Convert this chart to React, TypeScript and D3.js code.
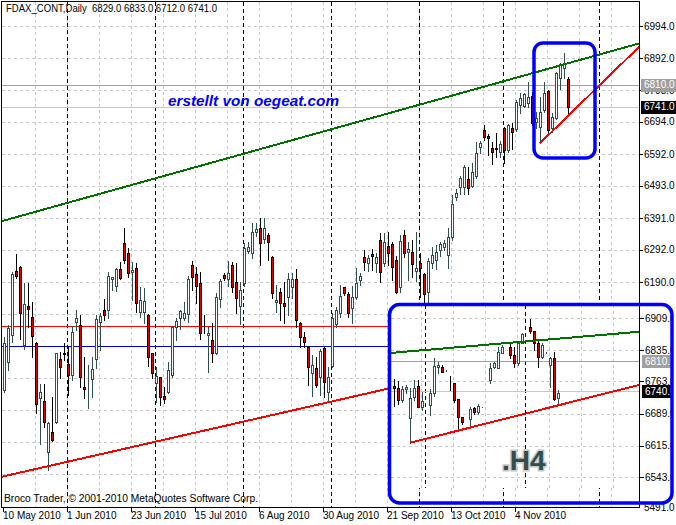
import React from "react";
import * as d3 from "d3";

// ---------- DATA ----------
// Daily FDAX candles from 10 May 2010, [open, high, low, close]
const dailyCandles: [number, number, number, number][] = [
  [5851, 6018, 5845, 5999], [5940, 6055, 5914, 6045], [6024, 6222, 6002, 6214], [6224, 6278, 6202, 6210],
  [6236, 6240, 6012, 6092], [5992, 6186, 5979, 6121], [6115, 6186, 6048, 6106], [6079, 6128, 5955, 6020],
  [5997, 6000, 5778, 5806], [5827, 5870, 5681, 5844], [5816, 5870, 5736, 5751], [5655, 5750, 5600, 5748],
  [5718, 5828, 5690, 5693], [5749, 5968, 5747, 5966], [5948, 5971, 5888, 5922], [5966, 5997, 5945, 5965],
  [5932, 5985, 5835, 5897], [5898, 6052, 5882, 6033], [6065, 6102, 6039, 6076], [6055, 6086, 5861, 5893],
  [5861, 5954, 5825, 5853], [5898, 5929, 5795, 5898], [5884, 5955, 5830, 5916], [5947, 6086, 5919, 6073],
  [6065, 6092, 5976, 6083], [6102, 6136, 6071, 6086], [6102, 6222, 6076, 6209], [6198, 6207, 6165, 6205],
  [6178, 6233, 6163, 6230], [6230, 6254, 6198, 6202], [6313, 6360, 6250, 6259], [6280, 6296, 6207, 6217],
  [6221, 6253, 6133, 6228], [6233, 6249, 6097, 6125], [6097, 6175, 6081, 6134], [6095, 6170, 6062, 6130],
  [6086, 6088, 5926, 5954], [5966, 5968, 5888, 5905], [5872, 5924, 5814, 5895], [5891, 5893, 5804, 5828],
  [5832, 5861, 5809, 5823], [5845, 5940, 5840, 5914], [5898, 6052, 5893, 6048], [6048, 6076, 6008, 6068],
  [6076, 6102, 6041, 6100], [6076, 6128, 6071, 6094], [6089, 6209, 6065, 6198], [6243, 6257, 6165, 6207],
  [6215, 6238, 6125, 6177], [6186, 6222, 6010, 6031], [6046, 6086, 6029, 6044], [6024, 6050, 5908, 6029],
  [6008, 6062, 5940, 5966], [5966, 6154, 5964, 6142], [6136, 6198, 6112, 6194], [6212, 6219, 6196, 6203],
  [6198, 6257, 6177, 6217], [6243, 6254, 6160, 6175], [6191, 6251, 6092, 6139], [6115, 6191, 6058, 6165],
  [6188, 6312, 6177, 6296], [6288, 6317, 6280, 6301], [6282, 6376, 6264, 6346], [6346, 6376, 6334, 6356],
  [6359, 6390, 6243, 6313], [6324, 6390, 6313, 6359], [6338, 6343, 6259, 6317], [6269, 6272, 6139, 6154],
  [6126, 6181, 6097, 6134], [6160, 6170, 6071, 6123], [6125, 6191, 6062, 6115], [6142, 6217, 6086, 6198],
  [6173, 6219, 6139, 6198], [6198, 6230, 6050, 6071], [6062, 6065, 5987, 6016], [6016, 6034, 5987, 6002],
  [5987, 5990, 5866, 5924], [5905, 5961, 5832, 5929], [5919, 5955, 5861, 5866], [5893, 5979, 5835, 5974],
  [5982, 5987, 5830, 5877], [5845, 5924, 5814, 5893], [5926, 6092, 5924, 6076], [6058, 6112, 6050, 6102],
  [6094, 6181, 6081, 6146], [6173, 6175, 6149, 6154], [6152, 6160, 6079, 6094], [6107, 6177, 6060, 6142],
  [6142, 6233, 6136, 6188], [6196, 6219, 6181, 6209], [6269, 6291, 6228, 6254], [6251, 6275, 6226, 6264],
  [6278, 6293, 6228, 6272], [6251, 6280, 6222, 6269], [6322, 6343, 6191, 6222], [6249, 6343, 6240, 6317],
  [6303, 6348, 6243, 6280], [6309, 6317, 6196, 6236], [6259, 6272, 6154, 6160], [6175, 6338, 6160, 6320],
  [6338, 6353, 6269, 6282], [6285, 6317, 6196, 6293], [6285, 6322, 6207, 6247], [6226, 6348, 6194, 6233],
  [6251, 6280, 6144, 6233], [6215, 6217, 6118, 6152], [6160, 6264, 6118, 6257], [6251, 6301, 6233, 6275],
  [6259, 6306, 6230, 6285], [6291, 6317, 6272, 6309], [6299, 6322, 6291, 6313], [6275, 6359, 6233, 6332],
  [6332, 6463, 6322, 6435], [6458, 6481, 6448, 6471], [6487, 6523, 6466, 6516], [6489, 6558, 6466, 6550],
  [6513, 6552, 6466, 6484], [6492, 6563, 6487, 6536], [6523, 6631, 6516, 6594], [6613, 6634, 6594, 6628],
  [6667, 6683, 6636, 6645], [6649, 6655, 6589, 6641], [6610, 6631, 6561, 6599], [6610, 6659, 6582, 6607],
  [6599, 6634, 6582, 6623], [6673, 6676, 6565, 6605], [6605, 6686, 6599, 6683], [6673, 6690, 6607, 6662],
  [6670, 6762, 6665, 6756], [6746, 6783, 6720, 6767], [6743, 6783, 6741, 6780], [6751, 6819, 6739, 6772],
  [6774, 6787, 6683, 6689], [6692, 6724, 6674, 6705], [6677, 6771, 6626, 6724], [6730, 6819, 6724, 6783],
  [6790, 6793, 6662, 6667], [6675, 6720, 6662, 6709], [6704, 6850, 6702, 6845], [6830, 6877, 6796, 6874],
  [6861, 6908, 6830, 6877], [6829, 6833, 6712, 6741],
];

// H4 inset candles [open, high, low, close]; null = no bar drawn
const h4Candles: ([number, number, number, number] | null)[] = [
  [6752, 6768, 6706, 6747], [6749, 6763, 6711, 6720], [6720, 6752, 6716, 6745], [6745, 6755, 6737, 6751],
  [6678, 6749, 6622, 6726], [6728, 6766, 6720, 6749], [6752, 6766, 6703, 6705], [6705, 6739, 6697, 6718],
  null, [6708, 6745, 6686, 6737], [6737, 6818, 6729, 6798], [6797, 6808, 6782, 6801],
  [6797, 6801, 6785, 6785], [6789, 6790, 6788, 6789], [6760, 6775, 6743, 6759], [6759, 6760, 6716, 6720],
  [6722, 6722, 6651, 6680], [6680, 6682, 6666, 6670], null, [6676, 6705, 6659, 6699],
  [6701, 6705, 6689, 6693], [6693, 6711, 6689, 6706], [6703, 6704, 6703, 6703], null,
  [6766, 6805, 6759, 6795], [6797, 6808, 6795, 6805], [6795, 6843, 6793, 6831], [6829, 6847, 6828, 6843],
  null, [6843, 6852, 6816, 6824], [6824, 6843, 6797, 6805], [6805, 6855, 6801, 6851],
  [6852, 6874, 6851, 6872], null, [6888, 6906, 6874, 6878], [6878, 6880, 6835, 6851],
  [6852, 6858, 6797, 6820], [6820, 6851, 6818, 6847], [6829, 6830, 6829, 6829], [6801, 6820, 6751, 6816],
  [6816, 6831, 6720, 6722], [6726, 6743, 6711, 6737],
];

const headerText = "FDAX_CONT,Daily  6829.0 6833.0 6712.0 6741.0";
const copyrightText = "Broco Trader, \u00a9 2001-2010 MetaQuotes Software Corp.";
const watermarkText = "erstellt von oegeat.com";
const insetTitle = ".H4";

const priceTicks = [6994, 6892, 6793, 6694, 6592, 6493, 6391, 6292, 6190, 6089, 5988, 5888, 5787, 5687, 5586];
const bottomScaleLabel = "5491.0";
const insetTicks = [6909, 6835, 6763, 6689, 6615, 6543];

const dateLabels = ["10 May 2010", "1 Jun 2010", "23 Jun 2010", "15 Jul 2010", "6 Aug 2010", "30 Aug 2010", "21 Sep 2010", "13 Oct 2010", "4 Nov 2010"];
const dateLabelBars = [0, 16, 32, 48, 64, 80, 96, 112, 128];
const monthSeparatorBars = [16, 38, 60, 82, 104, 125, 149];
const h4SeparatorBars = [8, 33];

// trendlines as [bar, price] anchor pairs
const greenTrend: [number, number][] = [[0, 6383], [159, 6940]];
const redTrendLow: [number, number][] = [[0, 5580], [96, 5855]];
const redTrendShort: [number, number][] = [[134, 6626], [158.8, 6929]];
const h4GreenTrend: [number, number][] = [[-1.66, 6828], [61.4, 6877.5]];
const h4RedTrend: [number, number][] = [[4, 6622], [61.4, 6755.5]];

const redLevel = 6051;
const blueLevel = 5988;
const markLevel = 6810;
const bidLevel = 6741;
const h4BidLevel = 6740;

// ---------- LAYOUT ----------
const PL = 2, PT = 2, PR = 639, PB = 507;
const INSET = { x0: 389.5, y0: 304.5, x1: 672, y1: 503, plotL: 391, plotT: 305, plotR: 640, plotB: 488 };
const FONT = "Tahoma, 'Liberation Sans', Arial, sans-serif";
const BULL = "#2f4f4f";
const BEAR_FILL = "#e00000";

function Candle({ cx, o, h, l, c }: any) {
  const bull = c <= o; // pixel space: close above open
  const top = Math.round(Math.min(o, c));
  const bot = Math.round(Math.max(o, c));
  const col = bull ? BULL : "#000";
  return (
    <g>
      <line x1={cx + 0.5} x2={cx + 0.5} y1={Math.round(h)} y2={Math.round(l) + 1} stroke={col} strokeWidth={1} />
      <rect x={cx - 0.5} y={top + 0.5} width={2} height={Math.max(bot - top, 0)} fill={bull ? "#fff" : BEAR_FILL} stroke={col} strokeWidth={1} />
    </g>
  );
}

function trendPath(pts: [number, number][], xs: any, ys: any, xa: number, xb: number) {
  const [a, b] = pts.map(([bar, p]) => [xs(bar), ys(p)]);
  const slope = (b[1] - a[1]) / (b[0] - a[0]);
  const yAt = (x: number) => a[1] + (x - a[0]) * slope;
  return { x1: xa, y1: yAt(xa), x2: xb, y2: yAt(xb) };
}

export default function App() {
  const xM = d3.scaleLinear().domain([0, 1]).range([4, 8]);
  const yM = d3.scaleLinear().domain([6994, 6190]).range([26, 282]);
  const xI = d3.scaleLinear().domain([0, 1]).range([394.33, 398.33]);
  const yI = d3.scaleLinear().domain([6909, 6543]).range([318, 477]);

  const gridBars = d3.range(8, 156, 8);
  const h4GridBars = d3.range(7, 62, 8);

  const g1 = trendPath(greenTrend, xM, yM, PL, PR);
  const r1 = trendPath(redTrendLow, xM, yM, PL, PR);
  const r2 = trendPath(redTrendShort, xM, yM, xM(redTrendShort[0][0]), PR);
  const hg = trendPath(h4GreenTrend, xI, yI, INSET.plotL, INSET.plotR);
  const hr = trendPath(h4RedTrend, xI, yI, xI(h4RedTrend[0][0]), INSET.plotR);

  const ry = (v: number) => Math.round(v) + 0.5;
  // axis labels that are not covered by the inset picture
  const visibleTicks = priceTicks.filter((p) => yM(p) < INSET.y0 - 6);
  const markBoxBottom = Math.round(yM(markLevel)) + 7;

  return (
    <svg width={676} height={525} style={{ position: "absolute", left: 0, top: 0, background: "#fff" }} fontFamily={FONT}>
      <defs>
        <clipPath id="mainClip"><rect x={PL} y={PT} width={PR - PL} height={PB - PT} /></clipPath>
        <clipPath id="insetClip"><rect x={INSET.plotL} y={INSET.plotT} width={INSET.plotR - INSET.plotL} height={INSET.plotB - INSET.plotT} /></clipPath>
        <clipPath id="insetAll"><rect x={INSET.x0} y={INSET.y0} width={INSET.x1 - INSET.x0} height={INSET.plotB - INSET.y0} /></clipPath>
        <clipPath id="belowMark"><rect x={640} y={markBoxBottom} width={40} height={20} /></clipPath>
      </defs>
      <rect x={0} y={0} width={676} height={525} fill="#fff" />

      {/* main grid */}
      <g clipPath="url(#mainClip)">
        {priceTicks.map((p) => (
          <line key={"h" + p} x1={PL} x2={PR} y1={ry(yM(p))} y2={ry(yM(p))} stroke="#c8c8c8" strokeDasharray="3,3" />
        ))}
        {gridBars.map((b) => (
          <line key={"v" + b} x1={Math.round(xM(b)) - 0.5} x2={Math.round(xM(b)) - 0.5} y1={PT} y2={PB} stroke="#c8c8c8" strokeDasharray="3,3" />
        ))}
        {monthSeparatorBars.map((b) => (
          <line key={"s" + b} x1={Math.round(xM(b)) - 0.5} x2={Math.round(xM(b)) - 0.5} y1={PT} y2={PB} stroke="#000" strokeDasharray="4,3" />
        ))}
        {/* horizontal levels */}
        <line x1={PL} x2={PR} y1={ry(yM(redLevel))} y2={ry(yM(redLevel))} stroke="#ff0000" />
        <line x1={PL} x2={PR} y1={ry(yM(blueLevel))} y2={ry(yM(blueLevel))} stroke="#0000dd" />
        <line x1={PL} x2={PR} y1={ry(yM(markLevel))} y2={ry(yM(markLevel))} stroke="#a0a0a0" />
        <line x1={PL} x2={PR} y1={ry(yM(bidLevel))} y2={ry(yM(bidLevel))} stroke="#c8c8c8" />

        {/* candles */}
        {dailyCandles.map(([o, h, l, c], i) => (
          <Candle key={i} cx={Math.round(xM(i))} o={yM(o)} h={yM(h)} l={yM(l)} c={yM(c)} />
        ))}

        {/* trendlines */}
        <line {...g1} stroke="#007000" strokeWidth={2} shapeRendering="crispEdges" />
        <line {...r1} stroke="#ff0000" strokeWidth={2} shapeRendering="crispEdges" />
        <line {...r2} stroke="#ff0000" strokeWidth={2} shapeRendering="crispEdges" />
      </g>

      {/* frame */}
      <rect x={PL - 0.5} y={PT - 0.5} width={PR - PL + 1} height={PB - PT + 1} fill="none" stroke="#000" />

      {/* right axis labels */}
      {visibleTicks.map((p) => (
        <g key={"t" + p}>
          <line x1={PR} x2={PR + 4} y1={ry(yM(p))} y2={ry(yM(p))} stroke="#000" />
          {Math.abs(yM(p) - yM(markLevel)) < 8 ? (
            <g clipPath="url(#belowMark)">
              <text x={644} y={yM(p) + 3.5} fontSize={10} fill="#000">{p.toFixed(1)}</text>
            </g>
          ) : (
            <text x={644} y={yM(p) + 3.5} fontSize={10} fill="#000">{p.toFixed(1)}</text>
          )}
        </g>
      ))}
      <text x={644} y={PB + 4} fontSize={10} fill="#000">{bottomScaleLabel}</text>
      <rect x={641} y={Math.round(yM(markLevel)) - 6} width={35} height={13} fill="#a0a0a0" />
      <text x={644} y={yM(markLevel) + 3.5} fontSize={10} fill="#fff">{markLevel.toFixed(1)}</text>
      <rect x={641} y={Math.round(yM(bidLevel)) - 6} width={35} height={13} fill="#000" />
      <text x={644} y={yM(bidLevel) + 3.5} fontSize={10} fill="#fff">{bidLevel.toFixed(1)}</text>

      {/* time axis */}
      {dateLabelBars.map((b, i) => (
        <g key={"d" + b}>
          <line x1={Math.round(xM(b)) - 0.5} x2={Math.round(xM(b)) - 0.5} y1={PB} y2={PB + 5} stroke="#000" />
          <text x={Math.round(xM(b)) - 1} y={519} fontSize={10} fill="#000">{dateLabels[i]}</text>
        </g>
      ))}

      {/* texts */}
      <text x={6} y={12} fontSize={10} fill="#000" textLength={211} lengthAdjust="spacingAndGlyphs" xmlSpace="preserve">{headerText}</text>
      <text x={4} y={502} fontSize={10} fill="#000" textLength={254} lengthAdjust="spacingAndGlyphs">{copyrightText}</text>
      <text x={168} y={106} fontSize={14} fontWeight="bold" fontStyle="italic" fill="#0000ff" fontFamily="'Liberation Sans', Arial, sans-serif" textLength={171} lengthAdjust="spacingAndGlyphs">{watermarkText}</text>

      {/* main highlight box */}
      <rect x={534} y={43} width={61} height={115} rx={9} fill="none" stroke="#0000ff" strokeWidth={3.5} />

      {/* ---------- H4 inset ---------- */}
      <g clipPath="url(#insetAll)">
        <rect x={INSET.x0} y={INSET.y0} width={INSET.x1 - INSET.x0} height={INSET.plotB - INSET.y0} fill="#fff" />
        <g clipPath="url(#insetClip)">
          {insetTicks.map((p) => (
            <line key={"ih" + p} x1={INSET.plotL} x2={INSET.plotR} y1={ry(yI(p))} y2={ry(yI(p))} stroke="#c8c8c8" strokeDasharray="3,3" />
          ))}
          {h4GridBars.map((b) => (
            <line key={"iv" + b} x1={Math.round(xI(b)) - 0.5} x2={Math.round(xI(b)) - 0.5} y1={INSET.plotT} y2={INSET.plotB} stroke="#c8c8c8" strokeDasharray="3,3" />
          ))}
          {h4SeparatorBars.map((b) => (
            <line key={"is" + b} x1={Math.round(xI(b)) - 0.5} x2={Math.round(xI(b)) - 0.5} y1={INSET.plotT} y2={INSET.plotB} stroke="#000" strokeDasharray="4,3" />
          ))}
          <line x1={INSET.plotL} x2={INSET.plotR} y1={ry(yI(markLevel))} y2={ry(yI(markLevel))} stroke="#a0a0a0" />
          <line x1={INSET.plotL} x2={INSET.plotR} y1={ry(yI(h4BidLevel))} y2={ry(yI(h4BidLevel))} stroke="#c8c8c8" />
          {h4Candles.map((cd, i) =>
            cd ? <Candle key={i} cx={Math.round(xI(i))} o={yI(cd[0])} h={yI(cd[1])} l={yI(cd[2])} c={yI(cd[3])} /> : null
          )}
          <line {...hg} stroke="#007000" strokeWidth={2} shapeRendering="crispEdges" />
          <line {...hr} stroke="#ff0000" strokeWidth={2} shapeRendering="crispEdges" />
        </g>
        <line x1={INSET.plotR - 0.5} x2={INSET.plotR - 0.5} y1={INSET.plotT} y2={INSET.plotB} stroke="#000" />
        {insetTicks.map((p) => (
          <g key={"it" + p}>
            <line x1={INSET.plotR} x2={INSET.plotR + 4} y1={ry(yI(p))} y2={ry(yI(p))} stroke="#000" />
            <text x={645} y={yI(p) + 3.5} fontSize={10} fill="#000">{p.toFixed(1)}</text>
          </g>
        ))}
        <rect x={642} y={Math.round(yI(markLevel)) - 6} width={35} height={13} fill="#a0a0a0" />
        <text x={645} y={yI(markLevel) + 3.5} fontSize={10} fill="#fff">{markLevel.toFixed(1)}</text>
        <rect x={642} y={Math.round(yI(h4BidLevel)) - 6} width={35} height={13} fill="#000" />
        <text x={645} y={yI(h4BidLevel) + 3.5} fontSize={10} fill="#fff">{h4BidLevel.toFixed(1)}</text>
        <text x={502} y={470} fontSize={28} fontWeight="bold" fill="#2f4f4f" stroke="#c8c8c8" strokeWidth={3} paintOrder="stroke" fontFamily="'Liberation Sans', Arial, sans-serif">{insetTitle}</text>
      </g>
      <rect x={INSET.x0} y={INSET.y0} width={INSET.x1 - INSET.x0} height={INSET.y1 - INSET.y0} rx={10} fill="none" stroke="#0000ff" strokeWidth={3.5} />
    </svg>
  );
}
